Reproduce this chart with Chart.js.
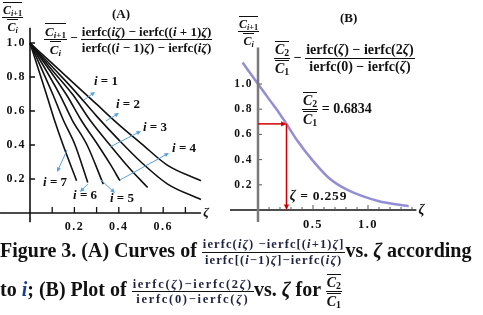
<!DOCTYPE html>
<html>
<head>
<meta charset="utf-8">
<script src="https://cdn.jsdelivr.net/npm/chart.js@4.4.1/dist/chart.umd.min.js"></script>
<style>
  body { margin: 0; background: #fff; width: 483px; height: 315px; overflow: hidden; position: relative; font-family: "Liberation Serif", serif; }
  canvas { position: absolute; top: 0; }
  #chartA { left: 0; }
  #chartB { left: 230px; }
  .t { position: absolute; white-space: nowrap; font-weight: bold; color: #111; line-height: 1; }
  .frac { display: inline-flex; flex-direction: column; align-items: center; vertical-align: middle; }
  .frac > span:first-child { border-bottom: 1px solid #111; padding: 0 1px 1px; }
  .frac > span:last-child { padding-top: 1px; }
  .ov { border-top: 1px solid #111; display: inline-block; padding-top: 1px; }
  sub { font-size: 70%; vertical-align: -0.25em; line-height: 0; }
  i { font-style: italic; }
  .cap { font-size: 20px; }
  .cf { font-family: "Liberation Serif", serif; font-size: 12.5px; font-weight: bold; letter-spacing: 1.1px; color: #1f2340; }
</style>
</head>
<body>
<canvas id="chartA" width="240" height="240"></canvas>
<canvas id="chartB" width="253" height="240"></canvas>

<!-- panel A text -->
<div class="t" style="left:112px;top:7px;font-size:13px">(A)</div>
<div class="t" style="left:2px;top:2px;font-size:12px">
  <span class="frac"><span><span class="ov"><i>C</i><sub><i>i</i>+1</sub></span></span><span><span class="ov"><i>C</i><sub><i>i</i></sub></span></span></span>
</div>
<div class="t" style="left:44px;top:23px;font-size:13px">
  <span class="frac"><span><span class="ov"><i>C</i><sub><i>i</i>+1</sub></span></span><span><span class="ov"><i>C</i><sub><i>i</i></sub></span></span></span>
  −
  <span class="frac"><span>ierfc(<i>iζ</i>) − ierfc((<i>i</i> + 1)<i>ζ</i>)</span><span>ierfc((<i>i</i> − 1)<i>ζ</i>) − ierfc(<i>iζ</i>)</span></span>
</div>

<!-- panel B text -->
<div class="t" style="left:340px;top:11px;font-size:13px">(B)</div>
<div class="t" style="left:238px;top:16px;font-size:12px">
  <span class="frac"><span><span class="ov"><i>C</i><sub><i>i</i>+1</sub></span></span><span><span class="ov"><i>C</i><sub><i>i</i></sub></span></span></span>
</div>
<div class="t" style="left:274px;top:41px;font-size:14px">
  <span class="frac"><span><span class="ov"><i>C</i><sub>2</sub></span></span><span><span class="ov"><i>C</i><sub>1</sub></span></span></span>
  −
  <span class="frac"><span>ierfc(<i>ζ</i>) − ierfc(2<i>ζ</i>)</span><span>ierfc(0) − ierfc(<i>ζ</i>)</span></span>
</div>
<div class="t" style="left:302px;top:92px;font-size:14px">
  <span class="frac"><span><span class="ov"><i>C</i><sub>2</sub></span></span><span><span class="ov"><i>C</i><sub>1</sub></span></span></span>
  = 0.6834
</div>

<!-- caption -->
<div class="t cap" style="left:0;top:238px">
  Figure 3. (A) Curves of <span class="frac cf"><span>ierfc(<i>iζ</i>) −ierfc[(<i>i</i>+1)<i>ζ</i>]</span><span>ierfc[(<i>i</i>−1)<i>ζ</i>]−ierfc(<i>iζ</i>)</span></span>vs. <i>ζ</i> according
</div>
<div class="t cap" style="left:0;top:274px">
  to <i style="color:#1b3f8f">i</i>; (B) Plot of <span class="frac cf" style="letter-spacing:1.7px"><span>ierfc(<i>ζ</i>)−ierfc(2<i>ζ</i>)</span><span>ierfc(0)−ierfc(<i>ζ</i>)</span></span>vs. <i>ζ</i> for <span class="frac" style="font-size:14px"><span><span class="ov"><i>C</i><sub>2</sub></span></span><span><span class="ov"><i>C</i><sub>1</sub></span></span></span>
</div>

<script>
// panel A: one curve per i (zeta on x, ratio on y)
const zetaI1 = [0, 0.1, 0.2, 0.3, 0.4, 0.5, 0.62, 0.77];
const ratioI1 = [1, 0.88, 0.76, 0.64, 0.52, 0.41, 0.28, 0.19];
const zetaI2 = [0, 0.1, 0.2, 0.3, 0.4, 0.5, 0.62, 0.77];
const ratioI2 = [1, 0.86, 0.72, 0.57, 0.43, 0.3, 0.17, 0.08];
const zetaI3 = [0, 0.1, 0.194, 0.27, 0.36, 0.45, 0.53];
const ratioI3 = [1, 0.84, 0.694, 0.547, 0.4, 0.26, 0.15];
const zetaI4 = [0, 0.165, 0.23, 0.306, 0.36, 0.405];
const ratioI4 = [1, 0.694, 0.547, 0.4, 0.29, 0.19];
const zetaI5 = [0, 0.135, 0.19, 0.257, 0.33];
const ratioI5 = [1, 0.694, 0.547, 0.4, 0.17];
const zetaI6 = [0, 0.104, 0.15, 0.203, 0.26];
const ratioI6 = [1, 0.694, 0.547, 0.4, 0.18];
const zetaI7 = [0, 0.075, 0.11, 0.149, 0.21];
const ratioI7 = [1, 0.694, 0.547, 0.4, 0.19];

const tickValsA_x = [0.1, 0.2, 0.3, 0.4, 0.5, 0.6, 0.7];
const tickLabelsA_x = ["0.2", "0.4", "0.6"];
const tickLabelPosA_x = [0.2, 0.4, 0.6];
const tickValsA_y = [0.2, 0.4, 0.6, 0.8, 1.0];
const tickLabelsA_y = ["0.2", "0.4", "0.6", "0.8", "1.0"];

// curve labels and their pointer arrows, in data units
const iNames = ["1", "2", "3", "4", "5", "6", "7"];
const labelZeta = [0.288, 0.387, 0.509, 0.64, 0.36, 0.194, 0.059];
const labelRatio = [0.771, 0.635, 0.5, 0.376, 0.082, 0.1, 0.176];
const arrowFromZeta = [0.243, 0.342, 0.36, 0.405, 0.315, 0.261, 0.167];
const arrowFromRatio = [0.665, 0.541, 0.388, 0.194, 0.2, 0.171, 0.371];
const arrowToZeta = [0.293, 0.401, 0.5, 0.626, 0.383, 0.225, 0.122];
const arrowToRatio = [0.712, 0.588, 0.482, 0.353, 0.118, 0.124, 0.241];

// panel B: i = 1 curve
const zetaB = [-0.14, 0, 0.1, 0.2, 0.259, 0.35, 0.5, 0.65, 0.8, 0.95, 1.1, 1.25, 1.37];
const ratioB = [1.17, 1.0, 0.88, 0.76, 0.683, 0.56, 0.39, 0.25, 0.165, 0.11, 0.07, 0.045, 0.03];
const markZeta = 0.259;
const markRatio = 0.6834;
const tickValsB_x = [0.1, 0.2, 0.3, 0.4, 0.5, 0.6, 0.7, 0.8, 0.9, 1.0, 1.1, 1.2, 1.3, 1.4];
const tickLabelsB_x = ["0.5", "1.0"];
const tickLabelPosB_x = [0.5, 1.0];
const tickValsB_y = [0.2, 0.4, 0.6, 0.8, 1.0];
const tickLabelsB_y = ["0.2", "0.4", "0.6", "0.8", "1.0"];

function pts(xs, ys) {
  return xs.map((x, k) => ({ x: x, y: ys[k] }));
}

function arrow(ctx, x1, y1, x2, y2, color, w, head) {
  const a = Math.atan2(y2 - y1, x2 - x1);
  ctx.strokeStyle = color;
  ctx.fillStyle = color;
  ctx.lineWidth = w;
  ctx.beginPath();
  ctx.moveTo(x1, y1);
  ctx.lineTo(x2 - Math.cos(a) * head * 0.6, y2 - Math.sin(a) * head * 0.6);
  ctx.stroke();
  ctx.beginPath();
  ctx.moveTo(x2, y2);
  ctx.lineTo(x2 - head * Math.cos(a - 0.45), y2 - head * Math.sin(a - 0.45));
  ctx.lineTo(x2 - head * Math.cos(a + 0.45), y2 - head * Math.sin(a + 0.45));
  ctx.closePath();
  ctx.fill();
}

const lineStyle = { borderColor: "#111", borderWidth: 1.6, pointRadius: 0, fill: false, cubicInterpolationMode: "monotone" };

// axes + labels for panel A
const axesA = {
  id: "axesA",
  afterDraw(chart) {
    const ctx = chart.ctx, xs = chart.scales.x, ys = chart.scales.y;
    const x0 = xs.getPixelForValue(0), y0 = ys.getPixelForValue(0);
    ctx.save();
    ctx.strokeStyle = "#111";
    ctx.lineWidth = 1.6;
    ctx.beginPath();
    ctx.moveTo(x0, ys.getPixelForValue(1.09));
    ctx.lineTo(x0, ys.getPixelForValue(-0.055));
    ctx.moveTo(xs.getPixelForValue(-0.135), y0);
    ctx.lineTo(xs.getPixelForValue(0.77), y0);
    ctx.stroke();
    ctx.lineWidth = 1.3;
    ctx.beginPath();
    tickValsA_x.forEach(v => { const p = xs.getPixelForValue(v); ctx.moveTo(p, y0); ctx.lineTo(p, y0 - 6); });
    tickValsA_y.forEach(v => { const p = ys.getPixelForValue(v); ctx.moveTo(x0, p); ctx.lineTo(x0 + 5, p); });
    ctx.stroke();

    ctx.fillStyle = "#111";
    ctx.font = 'bold 12px "Liberation Serif"';
    ctx.letterSpacing = "1.5px";
    ctx.textAlign = "right";
    ctx.textBaseline = "middle";
    tickLabelsA_y.forEach((t, k) => ctx.fillText(t, x0 - 4, ys.getPixelForValue(tickValsA_y[k])));
    ctx.textAlign = "center";
    tickLabelsA_x.forEach((t, k) => ctx.fillText(t, xs.getPixelForValue(tickLabelPosA_x[k]), y0 + 14));
    ctx.letterSpacing = "0px";
    ctx.font = 'italic bold 13px "Liberation Serif"';
    ctx.textAlign = "left";
    ctx.fillText("ζ", xs.getPixelForValue(0.78), y0);

    // i labels with blue pointer arrows
    for (let k = 0; k < iNames.length; k++) {
      arrow(ctx, xs.getPixelForValue(arrowFromZeta[k]), ys.getPixelForValue(arrowFromRatio[k]),
        xs.getPixelForValue(arrowToZeta[k]), ys.getPixelForValue(arrowToRatio[k]), "#5aa0dc", 1, 5);
      const lx = xs.getPixelForValue(labelZeta[k]), ly = ys.getPixelForValue(labelRatio[k]);
      ctx.fillStyle = "#111";
      ctx.font = 'italic bold 13px "Liberation Serif"';
      ctx.fillText("i", lx, ly);
      const w = ctx.measureText("i").width;
      ctx.font = 'bold 13px "Liberation Serif"';
      ctx.fillText(" = " + iNames[k], lx + w, ly);
    }
    ctx.restore();
  }
};

// axes + marker for panel B
const axesB = {
  id: "axesB",
  afterDraw(chart) {
    const ctx = chart.ctx, xs = chart.scales.x, ys = chart.scales.y;
    const x0 = xs.getPixelForValue(0), y0 = ys.getPixelForValue(0);
    ctx.save();
    ctx.strokeStyle = "#111";
    ctx.lineWidth = 1.5;
    ctx.beginPath();
    ctx.moveTo(xs.getPixelForValue(-0.255), y0);
    ctx.lineTo(xs.getPixelForValue(1.44), y0);
    ctx.stroke();
    ctx.lineWidth = 1;
    ctx.strokeStyle = "#555";
    ctx.beginPath();
    tickValsB_x.forEach(v => {
      const p = xs.getPixelForValue(v);
      const len = tickLabelPosB_x.includes(v) ? 5 : 3;
      ctx.moveTo(p, y0); ctx.lineTo(p, y0 - len);
    });
    tickValsB_y.forEach(v => { const p = ys.getPixelForValue(v); ctx.moveTo(x0, p); ctx.lineTo(x0 + 4, p); });
    ctx.stroke();
    ctx.strokeStyle = "#7a7a7a";
    ctx.lineWidth = 2.5;
    ctx.beginPath();
    ctx.moveTo(x0, ys.getPixelForValue(1.29));
    ctx.lineTo(x0, ys.getPixelForValue(-0.095));
    ctx.stroke();

    // red guide arrows at the read-off point
    const mx = xs.getPixelForValue(markZeta), my = ys.getPixelForValue(markRatio);
    arrow(ctx, x0, my, mx, my, "#d00000", 1.5, 6);
    arrow(ctx, mx, my, mx, y0, "#d00000", 1.5, 6);

    ctx.fillStyle = "#111";
    ctx.font = 'bold 11.5px "Liberation Serif"';
    ctx.letterSpacing = "1.5px";
    ctx.textAlign = "right";
    ctx.textBaseline = "middle";
    tickLabelsB_y.forEach((t, k) => ctx.fillText(t, x0 - 5, ys.getPixelForValue(tickValsB_y[k])));
    ctx.textAlign = "center";
    ctx.font = 'bold 12.5px "Liberation Serif"';
    tickLabelsB_x.forEach((t, k) => ctx.fillText(t, xs.getPixelForValue(tickLabelPosB_x[k]), y0 + 15));
    ctx.letterSpacing = "0px";
    ctx.textAlign = "left";
    ctx.font = 'italic bold 14px "Liberation Serif"';
    ctx.fillText("ζ", xs.getPixelForValue(1.46), y0);
    const zx = xs.getPixelForValue(markZeta + 0.03), zy = ys.getPixelForValue(0.11);
    ctx.fillText("ζ", zx, zy);
    const w = ctx.measureText("ζ").width;
    ctx.font = 'bold 13.5px "Liberation Serif"';
    ctx.letterSpacing = "0.8px";
    ctx.fillText(" = 0.259", zx + w, zy);
    ctx.restore();
  }
};

const baseOpts = (xmin, xmax, ymin, ymax) => ({
  responsive: false,
  animation: false,
  events: [],
  layout: { padding: 0 },
  plugins: { legend: { display: false }, tooltip: { enabled: false } },
  scales: {
    x: { type: "linear", min: xmin, max: xmax, display: false },
    y: { type: "linear", min: ymin, max: ymax, display: false }
  }
});

new Chart(document.getElementById("chartA"), {
  type: "line",
  data: {
    datasets: [
      { data: pts(zetaI1, ratioI1), ...lineStyle },
      { data: pts(zetaI2, ratioI2), ...lineStyle },
      { data: pts(zetaI3, ratioI3), ...lineStyle },
      { data: pts(zetaI4, ratioI4), ...lineStyle },
      { data: pts(zetaI5, ratioI5), ...lineStyle },
      { data: pts(zetaI6, ratioI6), ...lineStyle },
      { data: pts(zetaI7, ratioI7), ...lineStyle }
    ]
  },
  options: baseOpts(-30 / 222, -30 / 222 + 240 / 222, 213 / 170 - 240 / 170, 213 / 170),
  plugins: [axesA]
});

new Chart(document.getElementById("chartB"), {
  type: "line",
  data: {
    datasets: [
      { data: pts(zetaB, ratioB), borderColor: "rgba(128,122,205,0.85)", borderWidth: 2.5, pointRadius: 0, fill: false, cubicInterpolationMode: "monotone" }
    ]
  },
  options: baseOpts(-28 / 110, -28 / 110 + 253 / 110, 210 / 126 - 240 / 126, 210 / 126),
  plugins: [axesB]
});
</script>
</body>
</html>
